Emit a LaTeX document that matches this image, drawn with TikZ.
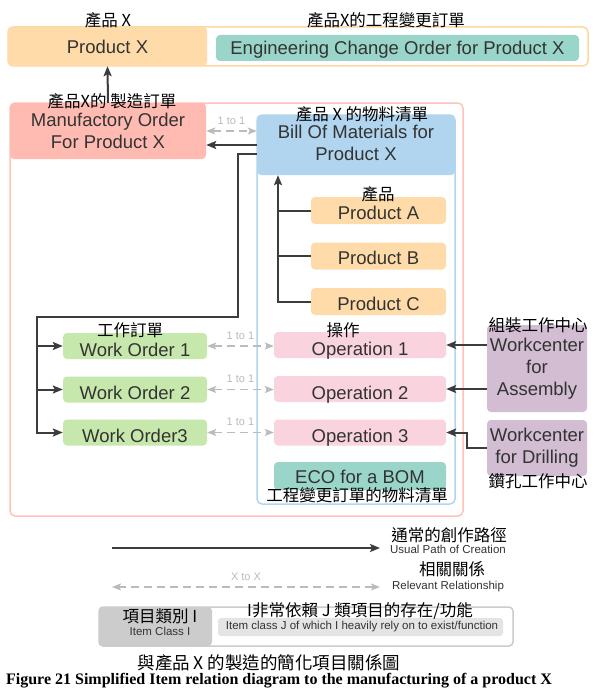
\documentclass[tikz,border=0pt]{standalone}
\usepackage{fontspec}
\setmainfont{Liberation Sans}
\newfontfamily\cjk{Noto Sans CJK TC}
\newfontfamily\capfont{Liberation Serif}
\usetikzlibrary{arrows.meta}
\definecolor{cOrange}{HTML}{FFDBA9}
\definecolor{cOrangeB}{HTML}{FDD7A4}
\definecolor{cTeal}{HTML}{9AD5CA}
\definecolor{cSalmon}{HTML}{FFBBB1}
\definecolor{cSalmonB}{HTML}{FFC3BB}
\definecolor{cBlue}{HTML}{B1D5EF}
\definecolor{cGreen}{HTML}{C7E8AC}
\definecolor{cPink}{HTML}{F9D4DF}
\definecolor{cPurple}{HTML}{D2BDD3}
\definecolor{cGray}{HTML}{CCCCCC}
\definecolor{cLGray}{HTML}{E4E4E4}
\definecolor{cText}{HTML}{333333}
\definecolor{cLine}{HTML}{3C3C3C}
\definecolor{cDash}{HTML}{BBBBBB}
\tikzset{
  box/.style={rounded corners=4pt, inner sep=0pt, text=cText, align=center,
    font=\fontsize{18.5}{22}\selectfont},
  t0/.style={text height=13.3pt, text depth=0pt},
  t1/.style={text height=15pt, text depth=0pt},
  t2/.style={text height=17.3pt, text depth=0pt},
  t3/.style={text height=20.3pt, text depth=0pt},
  frame/.style={rounded corners=5pt, inner sep=0pt, line width=1.5pt},
  lbl/.style={font=\cjk\fontsize{16.5}{18}\selectfont, inner sep=0pt, text=black},
  smalltxt/.style={font=\fontsize{11.5}{13}\selectfont, inner sep=0pt, text=cText},
  ratio/.style={font=\fontsize{11}{13}\selectfont, inner sep=0pt, text=cDash},
  arr/.style={draw=cLine, line width=2pt, -{Stealth[length=10pt,width=8pt,inset=2pt]}},
  plainline/.style={draw=cLine, line width=2pt},
  rel/.style={draw=cDash, line width=1.6pt, dash pattern=on 8pt off 5pt,
    {Stealth[length=9pt,width=7pt,inset=2pt]}-{Stealth[length=9pt,width=7pt,inset=2pt]}}
}
\begin{document}
\begin{tikzpicture}[x=1pt,y=-1pt]
\useasboundingbox (0,0) rectangle (602,693);
\fill[white] (0,0) rectangle (602,693);

% top container
\node[frame, draw=cOrangeB, minimum width=580, minimum height=39] (top) at (298,46.5) {};
\node[box, t0, fill=cOrange, minimum width=199, minimum height=39] (px) at (107.5,46.5) {Product X};
\node[box, t0, fill=cTeal, minimum width=363, minimum height=26] (eco) at (397.5,48) {Engineering Change Order for Product X};
\node[lbl] (lpx) at (108,20) {產品 X};
\node[lbl] (leco) at (386,20) {產品X的工程變更訂單};

% main container
\node[frame, draw=cSalmonB, minimum width=453, minimum height=413] (main) at (236.5,309.5) {};
\node[box, fill=cSalmon, minimum width=196, minimum height=56] (mo) at (108,131) {Manufactory Order\\For Product X};

% BOM container
\node[frame, draw=cBlue, minimum width=198, minimum height=389] (bomc) at (356,309.5) {};
\node[box, fill=cBlue, minimum width=198, minimum height=60] (bom) at (356,145) {};
\node[box] (bomt) at (356,143) {Bill Of Materials for\\Product X};

\node[box, t2, fill=cOrange, minimum width=135, minimum height=27] (pa) at (378.5,210.5) {Product A};
\node[box, t2, fill=cOrange, minimum width=135, minimum height=27] (pb) at (378.5,256) {Product B};
\node[box, t2, fill=cOrange, minimum width=135, minimum height=27] (pc) at (378.5,301.5) {Product C};

\node[box, t3, fill=cGreen, minimum width=144, minimum height=26] (wo1) at (135,346) {Work Order 1};
\node[box, t3, fill=cGreen, minimum width=144, minimum height=26] (wo2) at (135,389.5) {Work Order 2};
\node[box, t3, fill=cGreen, minimum width=144, minimum height=26] (wo3) at (135,432.5) {Work Order3};

\node[box, t3, fill=cPink, minimum width=172, minimum height=26] (op1) at (360,345) {Operation 1};
\node[box, t3, fill=cPink, minimum width=172, minimum height=26] (op2) at (360,389) {Operation 2};
\node[box, t3, fill=cPink, minimum width=172, minimum height=26] (op3) at (360,432.5) {Operation 3};
\node[box, t1, fill=cTeal, minimum width=172, minimum height=28] (ecob) at (360,476) {ECO for a BOM};

\node[box, fill=cPurple, minimum width=100, minimum height=87] (wca) at (537,368.5) {Workcenter\\for\\Assembly};
\node[box, fill=cPurple, minimum width=100, minimum height=56] (wcd) at (537,448) {Workcenter\\for Drilling};

% Chinese labels
\node[lbl] (lmo) at (112,101) {產品X的 製造訂單};
\node[lbl] (lbom) at (362,114) {產品 X 的物料清單};
\node[lbl] (lprod) at (378,194) {產品};
\node[lbl] (lwo) at (130,330) {工作訂單};
\node[lbl] (lop) at (343,330) {操作};
\node[lbl] (lwca) at (538,325) {組裝工作中心};
\node[lbl] (lwcd) at (538,481) {鑽孔工作中心};
\node[lbl] (lecob) at (357,495.5) {工程變更訂單的物料清單};

% connectors
\coordinate (spine) at (278,0);
\coordinate (bend) at (238,317);
\coordinate (trunk) at (37,317);
\coordinate (dj) at (467,0);

\draw[arr] (mo.north) -- (px.south);
\draw[rel] (mo.east) -- (mo.east -| bom.west) node[ratio, midway, above=6pt] {1 to 1};
\draw[arr] (bom.west) -- (bom.west -| mo.east);
\draw[arr] ([yshift=-9pt]bom.west) -| (bend) -| (wo3.west -| trunk) -- (wo3.west);
\draw[arr] (wo1.west -| trunk) -- (wo1.west);
\draw[arr] (wo2.west -| trunk) -- (wo2.west);

\draw[arr] (pc.west) -| (bom.south -| spine);
\draw[plainline] (pa.west) -- (pa.west -| spine);
\draw[plainline] (pb.west) -- (pb.west -| spine);

\draw[rel] (wo1.east) -- (wo1.east -| op1.west) node[ratio, midway, above=6pt] {1 to 1};
\draw[rel] (wo2.east) -- (wo2.east -| op2.west) node[ratio, midway, above=6pt] {1 to 1};
\draw[rel] (wo3.east) -- (wo3.east -| op3.west) node[ratio, midway, above=6pt] {1 to 1};

\draw[arr] (op1.east -| wca.west) -- (op1.east);
\draw[arr] (op2.east -| wca.west) -- (op2.east);
\draw[arr] (wcd.west) -| (op3.east -| dj) -- (op3.east);

% legend
\coordinate (la) at (112,548);
\coordinate (lb) at (380,548);
\coordinate (lc) at (112,587);
\coordinate (ld) at (380,587);
\draw[arr] (la) -- (lb);
\draw[rel] (lc) -- (ld) node[ratio, midway, above=6pt] {X to X};
\node[lbl] (lg1) at (449,535) {通常的創作路徑};
\node[smalltxt] (lg1e) at (448,549) {Usual Path of Creation};
\node[lbl] (lg2) at (452,569) {相關關係};
\node[smalltxt] (lg2e) at (448,587) {Relevant Relationship};

\node[frame, rounded corners=4pt, draw=cGray, fill=white, minimum width=414, minimum height=39] (leg) at (306,626.5) {};
\node[box, fill=cGray, minimum width=113, minimum height=39] (legi) at (155.5,626.5) {};
\node[box, rounded corners=3pt, fill=cLGray, minimum width=285, minimum height=18] (legj) at (360.5,627) {};
\node[lbl] (li) at (160,616) {項目類別 I};
\node[smalltxt] (lie) at (160,631) {Item Class I};
\node[lbl] (lj) at (360,611) {I非常依賴 J 類項目的存在/功能};
\node[smalltxt] (lje) at (362,627) {Item class J of which I heavily rely on to exist/function};

% caption
\node[lbl, font=\cjk\fontsize{17.5}{19}\selectfont] (cap1) at (269,663) {與產品 X 的製造的簡化項目關係圖};
\node[inner sep=0pt, font=\capfont\bfseries\fontsize{16}{18}\selectfont] (cap2) at (279,681) {Figure 21 Simplified Item relation diagram to the manufacturing of a product X};
\end{tikzpicture}
\end{document}
